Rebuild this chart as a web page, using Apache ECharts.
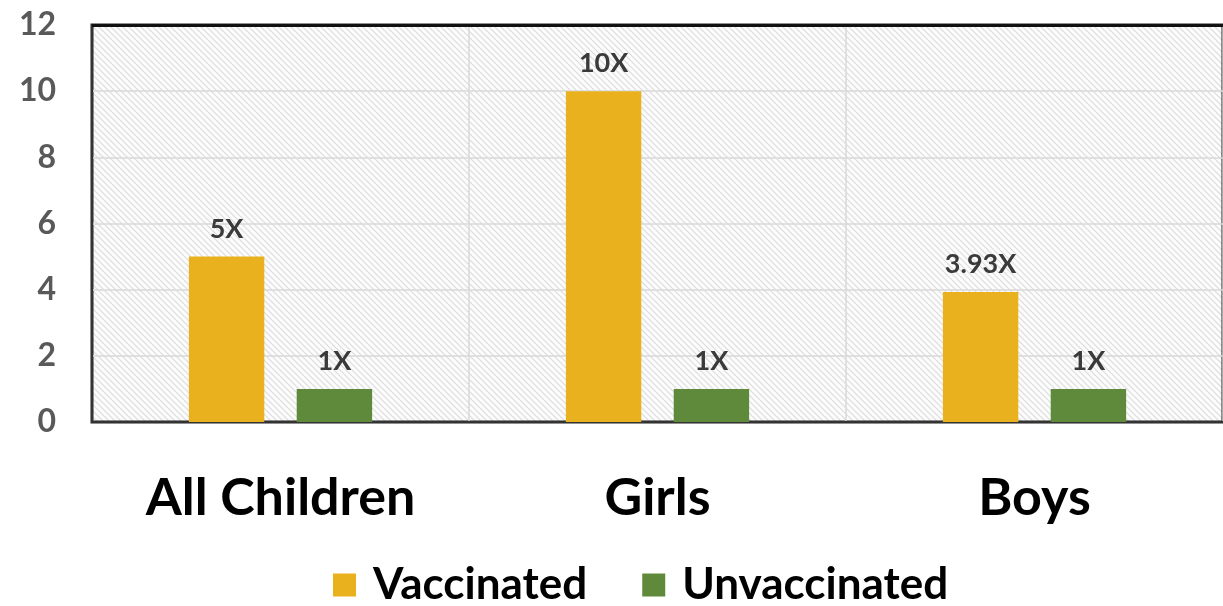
<!DOCTYPE html>
<html lang="en">
<head>
    <meta charset="UTF-8">
    <title>Vaccinated vs Unvaccinated</title>
    <script src="https://cdn.jsdelivr.net/npm/echarts@6/dist/echarts.min.js"></script>
</head>
<body style="margin:0;background:#fff">
<div id="chart" style="width:1223px;height:606px"></div>
<script>
    var categories = ['All Children', 'Girls', 'Boys'];
    var vaccinated = [5, 10, 3.93];
    var unvaccinated = [1, 1, 1];
    var vaccLabels = ['5X', '10X', '3.93X'];
    var unvaccLabels = ['1X', '1X', '1X'];
    var yMax = 12;

    // diagonal hatch for plot background
    var pat = document.createElement('canvas');
    pat.width = 6; pat.height = 6;
    var ctx = pat.getContext('2d');
    ctx.fillStyle = '#fcfcfc';
    ctx.fillRect(0, 0, 6, 6);
    ctx.strokeStyle = '#dcdcdc';
    ctx.lineWidth = 1.2;
    ctx.beginPath();
    ctx.moveTo(-1, -1); ctx.lineTo(7, 7);
    ctx.moveTo(-4, 2); ctx.lineTo(4, 10);
    ctx.moveTo(2, -4); ctx.lineTo(10, 4);
    ctx.stroke();

    var _chart = echarts.init(document.getElementById('chart'));
    var option = {
        animation: false,
        grid: {
            left: 92, top: 25, bottom: 184, right: -3,
            show: true,
            backgroundColor: {image: pat, repeat: 'repeat'},
            borderColor: '#222',
            borderWidth: 3
        },
        legend: {
            bottom: -6,
            left: 328,
            itemWidth: 23, itemHeight: 23,
            itemGap: 55,
            icon: 'rect',
            textStyle: {fontSize: 44, fontWeight: 'bold', color: '#000', fontFamily: 'Lato', padding: [0, 0, 0, 12]}
        },
        xAxis: {
            type: 'category',
            data: categories,
            axisLine: {lineStyle: {color: '#333', width: 2}},
            axisTick: {show: false},
            splitLine: {show: true, lineStyle: {color: '#d9d9d9', width: 1.5}},
            axisLabel: {fontSize: 52, fontWeight: 'bold', color: '#000', fontFamily: 'Lato', margin: 50}
        },
        yAxis: {
            type: 'value',
            min: 0, max: yMax, interval: 2,
            axisLine: {show: true, lineStyle: {color: '#333', width: 2}},
            axisTick: {show: false},
            splitLine: {showMaxLine: false, lineStyle: {color: '#d9d9d9', width: 1.5}},
            axisLabel: {fontSize: 32, fontWeight: 'bold', color: '#595959', fontFamily: 'Lato', margin: 36}
        },
        series: [
            {
                name: 'Vaccinated',
                type: 'bar',
                data: vaccinated,
                barWidth: '20%',
                barGap: '43%',
                itemStyle: {color: '#E9B11E'},
                label: {
                    show: true, position: 'top', distance: 14,
                    formatter: function (p) { return vaccLabels[p.dataIndex]; },
                    fontSize: 27, fontWeight: 'bold', color: '#3a3a3a', fontFamily: 'Lato'
                },
                // top border of the plot area
                markLine: {
                    silent: true,
                    symbol: 'none',
                    z: 10,
                    label: {show: false},
                    lineStyle: {color: '#111', width: 3, type: 'solid', opacity: 1},
                    data: [{yAxis: yMax}]
                }
            },
            {
                name: 'Unvaccinated',
                type: 'bar',
                data: unvaccinated,
                barWidth: '20%',
                itemStyle: {color: '#5F8A3B'},
                label: {
                    show: true, position: 'top', distance: 14,
                    formatter: function (p) { return unvaccLabels[p.dataIndex]; },
                    fontSize: 27, fontWeight: 'bold', color: '#3a3a3a', fontFamily: 'Lato'
                }
            }
        ]
    };
    _chart.setOption(option, true);
</script>
</body>
</html>
